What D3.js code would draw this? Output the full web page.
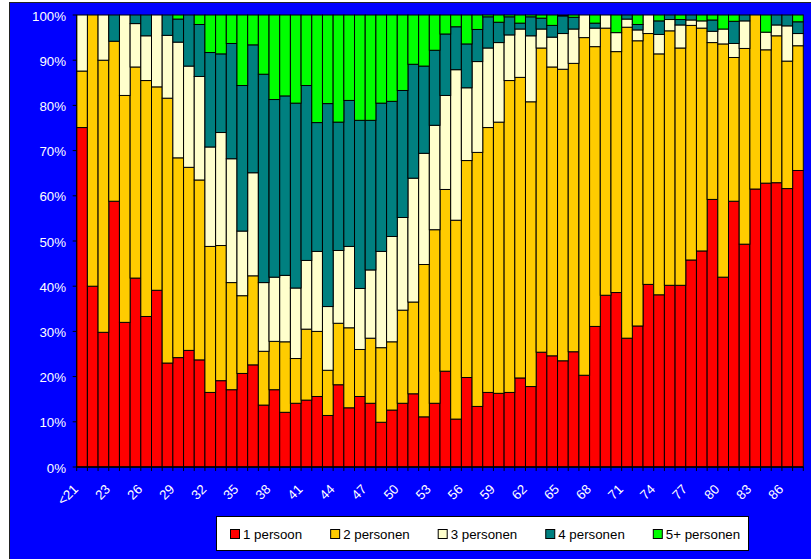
<!DOCTYPE html>
<html>
<head>
<meta charset="utf-8">
<script src="https://cdn.jsdelivr.net/npm/d3@7"></script>
<style>
  body { margin: 0; background: #fff; }
  text { font-family: Arial, "Liberation Sans", sans-serif; }
</style>
</head>
<body>
<svg id="chart" width="811" height="559"></svg>
<script>
const categories = ["<21"].concat(d3.range(21, 88).map(String))
const seriesNames = ["1 persoon", "2 personen", "3 personen", "4 personen", "5+ personen"]
const seriesColors = ["#ff0000", "#ffcc00", "#ffffcc", "#008080", "#00ff00"]
const yTicks = [0, 0.1, 0.2, 0.3, 0.4, 0.5, 0.6, 0.7, 0.8, 0.9, 1]

// percentages per age
const persoon1 = [75.1, 40.0, 29.8, 58.8, 32.0, 41.8, 33.3, 39.1, 23.0, 24.2, 25.8, 23.7, 16.5, 19.1, 17.1, 20.7, 22.6,
    13.7, 17.1, 12.1, 14.1, 14.8, 15.6, 11.4, 18.2, 13.1, 15.6, 14.1, 9.9, 12.6, 14.1, 16.2, 11.1, 14.1, 21.2, 10.6,
    19.8, 13.4, 16.5, 16.3, 16.5, 19.7, 17.8, 25.4, 24.6, 23.5, 25.5, 20.3, 31.1, 38.0, 38.6, 28.5, 31.2, 40.4, 38.1,
    40.2, 40.2, 45.8, 47.8, 59.2, 42.0, 58.8, 49.3, 61.5, 62.8, 62.9, 61.6, 65.6]
const personen2 = [12.5, 60.0, 60.2, 35.4, 50.2, 46.7, 52.2, 45.0, 58.6, 44.2, 40.5, 39.8, 32.3, 29.9, 23.7, 17.2, 19.7,
    11.9, 10.7, 15.6, 9.9, 15.7, 14.4, 10.0, 13.6, 17.7, 10.4, 14.4, 16.5, 15.1, 20.6, 20.3, 33.7, 38.4, 40.2, 44.0,
    48.0, 56.2, 58.6, 60.0, 69.0, 66.5, 63.0, 67.3, 63.9, 64.5, 63.8, 74.7, 61.9, 59.1, 53.3, 68.8, 63.1, 55.5, 53.3,
    56.3, 52.5, 51.9, 49.3, 34.7, 51.6, 31.8, 43.3, 38.5, 29.5, 32.5, 28.2, 27.6]
const personen3 = [12.4, 0, 10.0, 0, 17.8, 9.6, 9.9, 15.9, 13.9, 25.6, 22.4, 22.9, 22.0, 25.0, 27.4, 14.3, 22.8,
    15.2, 14.2, 14.7, 15.6, 15.2, 17.7, 14.1, 16.1, 18.0, 13.5, 15.1, 21.3, 23.3, 20.5, 27.4, 24.6, 23.1, 20.8, 33.3,
    16.1, 20.1, 17.6, 17.6, 10.1, 10.7, 14.6, 4.2, 6.6, 7.9, 7.6, 5.0, 4.1, 2.9, 4.2, 1.8, 2.4, 4.1, 4.3,
    2.5, 5.1, 1.2, 1.6, 2.5, 3.3, 3.1, 6.1, 0, 3.9, 2.4, 7.8, 2.7]
const personen4 = [0, 0, 0, 5.8, 0, 1.9, 4.6, 0, 4.5, 5.1, 11.3, 11.5, 20.9, 17.4, 25.5, 32.2, 28.3,
    46.1, 39.3, 39.7, 40.9, 38.7, 28.5, 44.9, 28.4, 32.3, 37.2, 33.1, 32.8, 29.9, 28.1, 25.2, 19.3, 16.6, 13.6, 9.5,
    9.7, 7.1, 6.9, 4.5, 4.0, 1.3, 4.2, 2.4, 2.6, 3.9, 2.6, 0, 1.1, 0, 0, 0.9, 1.2, 0, 3.0,
    1.0, 1.2, 1.1, 0, 2.5, 0, 4.9, 1.3, 0, 0, 2.2, 2.4, 2.6]
const personen5 = [0, 0, 0, 0, 0, 0, 0, 0, 0, 0.9, 0, 2.1, 8.3, 8.6, 6.3, 15.6, 6.6,
    13.1, 18.7, 17.9, 19.5, 15.6, 23.8, 19.6, 23.7, 18.9, 23.3, 23.3, 19.5, 19.1, 16.7, 10.9, 11.3, 7.8, 4.2, 2.6,
    6.4, 3.2, 0.4, 1.6, 0.4, 1.8, 0.4, 0.7, 2.3, 0.2, 0.5, 0, 1.8, 0, 3.9, 0, 2.1, 0, 1.3,
    0, 1.0, 0, 1.3, 1.1, 3.1, 1.4, 0, 0, 3.8, 0, 0, 1.5]

const allSeries = [persoon1, personen2, personen3, personen4, personen5]
const table = categories.map((c, i) => {
    const row = { cat: c }
    seriesNames.forEach((s, k) => row[s] = allSeries[k][i])
    return row
})

const svg = d3.select("#chart")

// blue chart area
svg.append("rect")
    .attr("x", 9.5).attr("y", 2.5)
    .attr("width", 802).attr("height", 557)
    .attr("fill", "#0000ff")
    .attr("stroke", "#222")

const x = d3.scaleBand().domain(categories).range([76.7, 803.3]).padding(0)
const y = d3.scaleLinear().domain([0, 1]).range([467, 15])
const color = d3.scaleOrdinal().domain(seriesNames).range(seriesColors)

const stacked = d3.stack().keys(seriesNames).offset(d3.stackOffsetExpand)(table)

svg.append("rect")
    .attr("x", x.range()[0]).attr("y", y(1))
    .attr("width", x.range()[1] - x.range()[0]).attr("height", y(0) - y(1))
    .attr("fill", "#fff")

svg.append("g")
    .selectAll("g")
    .data(stacked)
    .join("g")
    .attr("fill", d => color(d.key))
    .selectAll("rect")
    .data(d => d)
    .join("rect")
    .attr("x", d => x(d.data.cat))
    .attr("width", x.bandwidth())
    .attr("y", d => y(d[1]))
    .attr("height", d => y(d[0]) - y(d[1]))
    .attr("stroke", "#000")
    .attr("stroke-width", 1)

// y axis
const yAxis = svg.append("g")
yAxis.append("line")
    .attr("x1", x.range()[0]).attr("x2", x.range()[0])
    .attr("y1", y(0)).attr("y2", y(1))
    .attr("stroke", "#000")
yAxis.selectAll("line.tick")
    .data(yTicks)
    .join("line")
    .attr("class", "tick")
    .attr("x1", x.range()[0] - 4).attr("x2", x.range()[0])
    .attr("y1", d => y(d)).attr("y2", d => y(d))
    .attr("stroke", "#000")
yAxis.selectAll("text")
    .data(yTicks)
    .join("text")
    .attr("x", 66)
    .attr("y", d => y(d) + 1)
    .attr("dy", "0.35em")
    .attr("text-anchor", "end")
    .attr("fill", "#fff")
    .style("font-size", "13.3px")
    .text(d => d3.format(".0%")(d))

// x axis
const xAxis = svg.append("g")
xAxis.append("line")
    .attr("x1", x.range()[0]).attr("x2", x.range()[1])
    .attr("y1", y(0)).attr("y2", y(0))
    .attr("stroke", "#000").attr("stroke-width", 1.5)
xAxis.selectAll("line.tick")
    .data(d3.range(categories.length + 1))
    .join("line")
    .attr("class", "tick")
    .attr("x1", i => x.range()[0] + i * x.step())
    .attr("x2", i => x.range()[0] + i * x.step())
    .attr("y1", y(0)).attr("y2", y(0) + 4)
    .attr("stroke", "#000")
xAxis.selectAll("text")
    .data(categories.filter((c, i) => i % 3 === 0))
    .join("text")
    .attr("transform", d => `translate(${x(d) + x.bandwidth() / 2 - 3},490) rotate(-45)`)
    .attr("text-anchor", "end")
    .attr("fill", "#fff")
    .style("font-size", "13.3px")
    .text(d => d)

// legend
const legend = svg.append("g")
legend.append("rect")
    .attr("x", 216.5).attr("y", 516.5)
    .attr("width", 532).attr("height", 34)
    .attr("fill", "#fff")
    .attr("stroke", "#000")

let lx = 230
seriesNames.forEach(name => {
    const item = legend.append("g").attr("transform", `translate(${lx},529)`)
    item.append("rect")
        .attr("x", 0.5).attr("y", 0.5)
        .attr("width", 9).attr("height", 9)
        .attr("fill", color(name))
        .attr("stroke", "#000")
    const t = item.append("text")
        .attr("x", 13).attr("y", 9.5)
        .attr("fill", "#000")
        .style("font-size", "13.3px")
        .text(name)
    lx += 13 + t.node().getComputedTextLength() + 28
})
</script>
</body>
</html>
